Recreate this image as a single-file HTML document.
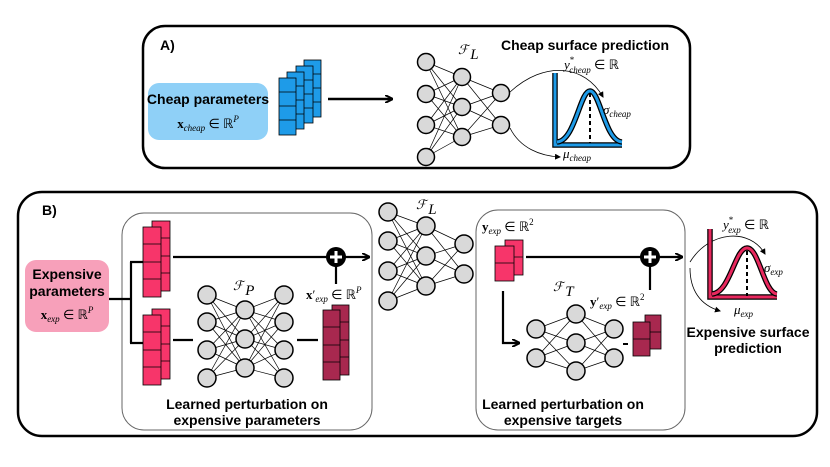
<!DOCTYPE html>
<html><head><meta charset="utf-8"><style>
body{margin:0;background:#fff}
svg{display:block}
.b{font-family:"Liberation Sans",sans-serif;font-weight:bold;font-size:14px}
.m{font-family:"Liberation Serif",serif;font-size:13px}
.i{font-style:italic}
</style></head><body>
<svg width="830" height="467" viewBox="0 0 830 467" xmlns="http://www.w3.org/2000/svg">
<defs>
<marker id="ah" markerWidth="8" markerHeight="8" refX="7" refY="4" orient="auto" markerUnits="userSpaceOnUse"><path d="M0,0 L8,4 L0,8" fill="none" stroke="#000" stroke-width="2"/></marker>
<marker id="sa" markerWidth="6" markerHeight="6" refX="5" refY="3" orient="auto" markerUnits="userSpaceOnUse"><path d="M0,0 L6,3 L0,6 z" fill="#000"/></marker>
</defs>
<!-- Panel A -->
<rect x="143" y="26" width="547" height="142" rx="22" fill="#fff" stroke="#000" stroke-width="2.5"/>
<text x="160" y="50" class="b" font-size="15">A)</text>
<rect x="148" y="83" width="120" height="57" rx="11" fill="#8fd0f7"/>
<text x="208" y="104" class="b" text-anchor="middle">Cheap parameters</text>
<text x="208" y="128" class="m" text-anchor="middle"><tspan font-weight="bold">x</tspan><tspan class="i" font-size="9" dy="3">cheap</tspan><tspan dy="-3"> ∈ ℝ</tspan><tspan class="i" font-size="9" dy="-6">P</tspan></text>
<g stroke="#000" stroke-width="0.8" fill="#1e9be8">
<rect x="304" y="60" width="17" height="57"/><line x1="304" y1="74" x2="321" y2="74"/><line x1="304" y1="88" x2="321" y2="88"/><line x1="304" y1="102" x2="321" y2="102"/>
<rect x="296" y="66" width="17" height="57"/><line x1="296" y1="80" x2="313" y2="80"/><line x1="296" y1="94" x2="313" y2="94"/><line x1="296" y1="108" x2="313" y2="108"/>
<rect x="287" y="72" width="17" height="57"/><line x1="287" y1="86" x2="304" y2="86"/><line x1="287" y1="100" x2="304" y2="100"/><line x1="287" y1="114" x2="304" y2="114"/>
<rect x="279" y="78" width="17" height="57"/><line x1="279" y1="92" x2="296" y2="92"/><line x1="279" y1="106" x2="296" y2="106"/><line x1="279" y1="120" x2="296" y2="120"/>
</g>
<line x1="328" y1="99" x2="392" y2="99" stroke="#000" stroke-width="2.5" marker-end="url(#ah)"/>
<g stroke="#000" stroke-width="0.7">
<path d="M426,62L462,77M426,62L462,107M426,62L462,137M426,94L462,77M426,94L462,107M426,94L462,137M426,125L462,77M426,125L462,107M426,125L462,137M426,157L462,77M426,157L462,107M426,157L462,137M462,77L501,93M462,77L501,125M462,107L501,93M462,107L501,125M462,137L501,93M462,137L501,125"/>
</g>
<g fill="#d9d9d9" stroke="#000" stroke-width="1.5">
<circle cx="426" cy="62" r="8.5"/><circle cx="426" cy="94" r="8.5"/><circle cx="426" cy="125" r="8.5"/><circle cx="426" cy="157" r="8.5"/>
<circle cx="462" cy="77" r="8.5"/><circle cx="462" cy="107" r="8.5"/><circle cx="462" cy="137" r="8.5"/>
<circle cx="501" cy="93" r="8.5"/><circle cx="501" cy="125" r="8.5"/>
</g>
<text x="458" y="54" class="m i" font-size="21">ℱ<tspan font-size="15" dx="2" dy="5">L</tspan></text>
<text x="669" y="50" class="b" text-anchor="end">Cheap surface prediction</text>
<path d="M510,92 C545,60 585,65 603,97" fill="none" stroke="#000" stroke-width="0.8" marker-end="url(#sa)"/>
<path d="M510,128 C520,148 540,156 560,157" fill="none" stroke="#000" stroke-width="0.8" marker-end="url(#sa)"/>
<path d="M555,73 L555,145 L622,145" fill="none" stroke="#000" stroke-width="5.5"/>
<path d="M555,73 L555,145 L622,145" fill="none" stroke="#1e9be8" stroke-width="3"/>
<path d="M557,142 C575,141 580,91 590,91 C600,91 605,141 622,142" fill="none" stroke="#000" stroke-width="5.5"/>
<path d="M557,142 C575,141 580,91 590,91 C600,91 605,141 622,142" fill="none" stroke="#1e9be8" stroke-width="3"/>
<line x1="590" y1="93" x2="590" y2="143" stroke="#000" stroke-width="2" stroke-dasharray="4,3"/>
<text x="564" y="69" class="m"><tspan class="i">y</tspan><tspan font-size="9" dy="-6">*</tspan><tspan class="i" font-size="9" dx="-5" dy="10">cheap</tspan><tspan dy="-4"> ∈ ℝ</tspan></text>
<text x="603" y="114" class="m"><tspan class="i">σ</tspan><tspan class="i" font-size="9" dy="3">cheap</tspan></text>
<text x="563" y="158" class="m"><tspan class="i">μ</tspan><tspan class="i" font-size="9" dy="3">cheap</tspan></text>
<!-- Panel B -->
<rect x="18" y="192" width="799" height="244" rx="24" fill="#fff" stroke="#000" stroke-width="2.5"/>
<text x="42" y="215" class="b" font-size="15">B)</text>
<rect x="122" y="213" width="250" height="217" rx="22" fill="#fff" stroke="#666" stroke-width="1"/>
<rect x="476" y="210" width="209" height="220" rx="22" fill="#fff" stroke="#666" stroke-width="1"/>
<rect x="25" y="260" width="84" height="72" rx="11" fill="#f7a0ba"/>
<text x="67" y="279" class="b" text-anchor="middle">Expensive</text>
<text x="67" y="296" class="b" text-anchor="middle">parameters</text>
<text x="67" y="319" class="m" text-anchor="middle"><tspan font-weight="bold">x</tspan><tspan class="i" font-size="9" dy="3">exp</tspan><tspan dy="-3"> ∈ ℝ</tspan><tspan class="i" font-size="9" dy="-6">P</tspan></text>
<path d="M109,299 H131 M131,262 V343 M130,262 H143 M130,343 H143" stroke="#000" stroke-width="2.2" fill="none"/>
<g stroke="#000" stroke-width="0.8" fill="#f7356a">
<rect x="152" y="221" width="18" height="70"/><line x1="152" y1="238" x2="170" y2="238"/><line x1="152" y1="256" x2="170" y2="256"/><line x1="152" y1="273" x2="170" y2="273"/>
<rect x="143" y="227" width="18" height="70"/><line x1="143" y1="244" x2="161" y2="244"/><line x1="143" y1="262" x2="161" y2="262"/><line x1="143" y1="279" x2="161" y2="279"/>
<rect x="152" y="309" width="18" height="70"/><line x1="152" y1="326" x2="170" y2="326"/><line x1="152" y1="344" x2="170" y2="344"/><line x1="152" y1="361" x2="170" y2="361"/>
<rect x="143" y="315" width="18" height="70"/><line x1="143" y1="332" x2="161" y2="332"/><line x1="143" y1="350" x2="161" y2="350"/><line x1="143" y1="367" x2="161" y2="367"/>
<rect x="505" y="240" width="18" height="35"/><line x1="505" y1="257" x2="523" y2="257"/>
<rect x="495" y="246" width="19" height="35"/><line x1="495" y1="263" x2="514" y2="263"/>
</g>
<g stroke="#000" stroke-width="0.8" fill="#a8284f">
<rect x="332" y="305" width="17" height="70"/><line x1="332" y1="322" x2="349" y2="322"/><line x1="332" y1="340" x2="349" y2="340"/><line x1="332" y1="357" x2="349" y2="357"/>
<rect x="323" y="310" width="17" height="70"/><line x1="323" y1="327" x2="340" y2="327"/><line x1="323" y1="345" x2="340" y2="345"/><line x1="323" y1="362" x2="340" y2="362"/>
<rect x="645" y="315" width="16" height="34"/><line x1="645" y1="332" x2="661" y2="332"/>
<rect x="633" y="322" width="17" height="34"/><line x1="633" y1="339" x2="650" y2="339"/>
</g>
<line x1="173" y1="257" x2="369" y2="257" stroke="#000" stroke-width="2.2" marker-end="url(#ah)"/>
<line x1="336" y1="257" x2="336" y2="284" stroke="#000" stroke-width="2.2"/>
<line x1="173" y1="340" x2="193" y2="340" stroke="#000" stroke-width="2.2"/>
<line x1="297" y1="340" x2="318" y2="340" stroke="#000" stroke-width="2.2"/>
<line x1="526" y1="257" x2="682" y2="257" stroke="#000" stroke-width="2.2" marker-end="url(#ah)"/>
<line x1="650" y1="257" x2="650" y2="290" stroke="#000" stroke-width="2.2"/>
<path d="M503,291 V343 H519" stroke="#000" stroke-width="2.2" fill="none" marker-end="url(#ah)"/>
<line x1="623" y1="344" x2="628" y2="344" stroke="#000" stroke-width="2"/>
<g><circle cx="336" cy="257" r="10" fill="#000"/><path d="M330,257H342M336,251V263" stroke="#fff" stroke-width="3"/></g>
<g><circle cx="650" cy="257" r="10" fill="#000"/><path d="M644,257H656M650,251V263" stroke="#fff" stroke-width="3"/></g>
<g stroke="#000" stroke-width="0.7">
<path d="M207,295L245,310M207,295L245,339M207,295L245,368M207,322L245,310M207,322L245,339M207,322L245,368M207,350L245,310M207,350L245,339M207,350L245,368M207,378L245,310M207,378L245,339M207,378L245,368M284,295L245,310M284,295L245,339M284,295L245,368M284,322L245,310M284,322L245,339M284,322L245,368M284,350L245,310M284,350L245,339M284,350L245,368M284,378L245,310M284,378L245,339M284,378L245,368"/>
<path d="M388,212L426,226M388,212L426,256M388,212L426,286M388,241L426,226M388,241L426,256M388,241L426,286M388,271L426,226M388,271L426,256M388,271L426,286M388,301L426,226M388,301L426,256M388,301L426,286M426,226L464,244M426,226L464,274M426,256L464,244M426,256L464,274M426,286L464,244M426,286L464,274"/>
<path d="M536,329L576,314M536,329L576,343M536,329L576,371M536,358L576,314M536,358L576,343M536,358L576,371M614,329L576,314M614,329L576,343M614,329L576,371M614,358L576,314M614,358L576,343M614,358L576,371"/>
</g>
<g fill="#d9d9d9" stroke="#000" stroke-width="1.5">
<circle cx="207" cy="295" r="9"/><circle cx="207" cy="322" r="9"/><circle cx="207" cy="350" r="9"/><circle cx="207" cy="378" r="9"/>
<circle cx="245" cy="310" r="9"/><circle cx="245" cy="339" r="9"/><circle cx="245" cy="368" r="9"/>
<circle cx="284" cy="295" r="9"/><circle cx="284" cy="322" r="9"/><circle cx="284" cy="350" r="9"/><circle cx="284" cy="378" r="9"/>
<circle cx="388" cy="212" r="9"/><circle cx="388" cy="241" r="9"/><circle cx="388" cy="271" r="9"/><circle cx="388" cy="301" r="9"/>
<circle cx="426" cy="226" r="9"/><circle cx="426" cy="256" r="9"/><circle cx="426" cy="286" r="9"/>
<circle cx="464" cy="244" r="9"/><circle cx="464" cy="274" r="9"/>
<circle cx="536" cy="329" r="9"/><circle cx="536" cy="358" r="9"/>
<circle cx="576" cy="314" r="9"/><circle cx="576" cy="343" r="9"/><circle cx="576" cy="371" r="9"/>
<circle cx="614" cy="329" r="9"/><circle cx="614" cy="358" r="9"/>
</g>
<text x="233" y="290" class="m i" font-size="21">ℱ<tspan font-size="15" dx="2" dy="5">P</tspan></text>
<text x="416" y="209" class="m i" font-size="21">ℱ<tspan font-size="15" dx="2" dy="5">L</tspan></text>
<text x="553" y="291" class="m i" font-size="21">ℱ<tspan font-size="15" dx="2" dy="5">T</tspan></text>
<text x="306" y="299" class="m"><tspan font-weight="bold">x</tspan><tspan>′</tspan><tspan class="i" font-size="9" dy="3">exp</tspan><tspan dy="-3"> ∈ ℝ</tspan><tspan class="i" font-size="9" dy="-6">P</tspan></text>
<text x="482" y="231" class="m"><tspan font-weight="bold">y</tspan><tspan class="i" font-size="9" dy="3">exp</tspan><tspan dy="-3"> ∈ ℝ</tspan><tspan font-size="9" dy="-6">2</tspan></text>
<text x="590" y="306" class="m"><tspan font-weight="bold">y</tspan><tspan>′</tspan><tspan class="i" font-size="9" dy="3">exp</tspan><tspan dy="-3"> ∈ ℝ</tspan><tspan font-size="9" dy="-6">2</tspan></text>
<text x="247" y="409" class="b" text-anchor="middle">Learned perturbation on</text>
<text x="247" y="425" class="b" text-anchor="middle">expensive parameters</text>
<text x="563" y="409" class="b" text-anchor="middle">Learned perturbation on</text>
<text x="563" y="425" class="b" text-anchor="middle">expensive targets</text>
<path d="M690,262 C710,230 750,228 765,254" fill="none" stroke="#000" stroke-width="0.8" marker-end="url(#sa)"/>
<path d="M690,268 C690,290 700,305 720,311" fill="none" stroke="#000" stroke-width="0.8" marker-end="url(#sa)"/>
<path d="M710,229 L710,297 L777,297" fill="none" stroke="#000" stroke-width="5.5"/>
<path d="M710,229 L710,297 L777,297" fill="none" stroke="#e8285e" stroke-width="3"/>
<path d="M712,294 C730,293 735,248 747,248 C759,248 764,293 777,294" fill="none" stroke="#000" stroke-width="5.5"/>
<path d="M712,294 C730,293 735,248 747,248 C759,248 764,293 777,294" fill="none" stroke="#e8285e" stroke-width="3"/>
<line x1="747" y1="251" x2="747" y2="296" stroke="#000" stroke-width="2" stroke-dasharray="4,3"/>
<text x="723" y="229" class="m"><tspan class="i">y</tspan><tspan font-size="9" dy="-6">*</tspan><tspan class="i" font-size="9" dx="-5" dy="10">exp</tspan><tspan dy="-4"> ∈ ℝ</tspan></text>
<text x="764" y="272" class="m"><tspan class="i">σ</tspan><tspan class="i" font-size="9" dy="3">exp</tspan></text>
<text x="734" y="314" class="m"><tspan class="i">μ</tspan><tspan class="i" font-size="9" dy="3">exp</tspan></text>
<text x="748" y="337" class="b" text-anchor="middle">Expensive surface</text>
<text x="748" y="353" class="b" text-anchor="middle">prediction</text>
</svg>
</body></html>
